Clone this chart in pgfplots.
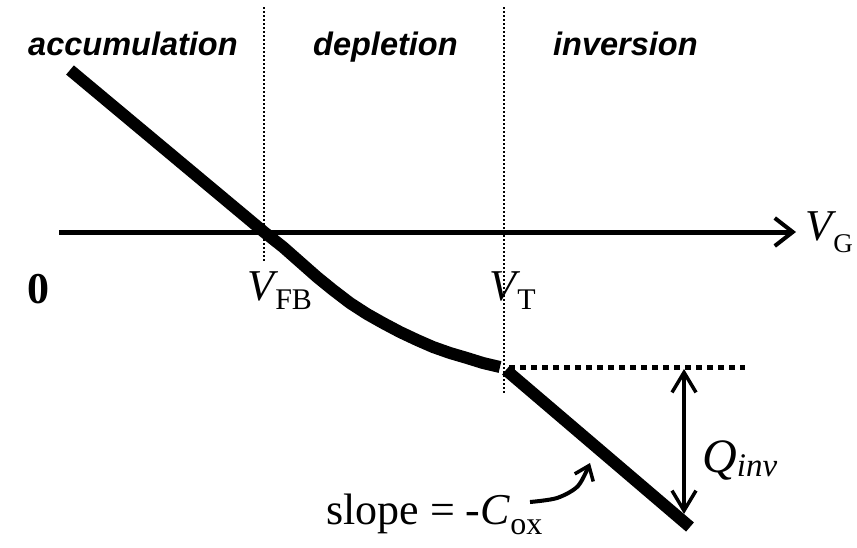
\documentclass[border=0pt]{standalone}
\usepackage{graphicx}
\usepackage{fontspec}
\setmainfont{Liberation Serif}
\newfontfamily\lsans{Liberation Sans}
\usepackage{pgfplots}
\pgfplotsset{compat=1.18}
\usetikzlibrary{arrows.meta}
\begin{document}
\begin{tikzpicture}
\begin{axis}[
  width=857pt, height=547pt, scale only axis,
  xmin=0, xmax=857, ymin=0, ymax=547, y dir=reverse,
  hide axis, clip=false,
]
\path (rel axis cs:0,0) rectangle (rel axis cs:1,1);
% dotted region separators
\addplot[black, line width=2pt, dash pattern=on 2pt off 2pt] coordinates {(264,7) (264,262)};
\addplot[black, line width=2pt, dash pattern=on 2pt off 2pt] coordinates {(504,7) (504,394)};
% horizontal V axis
\addplot[black, line width=5pt, -{Straight Barb[length=18pt,width=28pt,line width=4pt]}] coordinates {(59,232) (796,232)};
% Q_inv reference dotted line
\addplot[black, line width=5pt, dash pattern=on 6pt off 5pt] coordinates {(509,367) (745,367)};
% charge curve: accumulation + depletion
\addplot[black, line width=12pt, line join=round] coordinates {
(70,70) (264,232) (283,247) (300,262) (317,277) (333,290) (350,303) (367,314)
(383,323) (400,332) (417,340) (433,347) (450,353) (467,358) (483,363) (500,367)};
% inversion
\addplot[black, line width=12pt] coordinates {(506,370) (690,527)};
% Q_inv double arrow
\addplot[black, line width=3.5pt, {Straight Barb[length=20pt,width=24pt,line width=3.5pt]}-{Straight Barb[length=20pt,width=24pt,line width=3.5pt]}] coordinates {(684,369) (684,514)};
% slope arrow
\addplot[black, line width=4pt, smooth, -{Straight Barb[length=13pt,width=20pt,line width=3.5pt]}] coordinates {(530,502) (557,498) (578,486) (590,463)};
% region labels
\node[anchor=base west, inner sep=0pt] at (axis cs:28,55) {\fontsize{32.5}{32.5}\selectfont\lsans\bfseries\itshape accumulation};
\node[anchor=base west, inner sep=0pt] at (axis cs:313,55) {\fontsize{32.5}{32.5}\selectfont\lsans\bfseries\itshape depletion};
\node[anchor=base west, inner sep=0pt] at (axis cs:553,55) {\fontsize{32.5}{32.5}\selectfont\lsans\bfseries\itshape inversion};
% axis labels
\node[anchor=base west, inner sep=0pt] at (axis cs:27,303) {\fontsize{44}{44}\selectfont\bfseries 0};
\node[anchor=base west, inner sep=0pt] at (axis cs:247,300) {\fontsize{44}{44}\selectfont\textit{V}\kern-3pt\raisebox{-9pt}{\fontsize{30}{30}\selectfont FB}};
\node[anchor=base west, inner sep=0pt] at (axis cs:489,300) {\fontsize{44}{44}\selectfont\textit{V}\kern-3pt\raisebox{-9pt}{\fontsize{30}{30}\selectfont T}};
\node[anchor=base west, inner sep=0pt] at (axis cs:805,240) {\fontsize{44}{44}\selectfont\textit{V}\kern-3pt\raisebox{-12pt}{\fontsize{27}{27}\selectfont G}};
\node[anchor=base west, inner sep=0pt] at (axis cs:702,472) {\fontsize{48}{48}\selectfont\textit{Q}\raisebox{-4pt}{\fontsize{33}{33}\selectfont\textit{inv}}};
\node[anchor=base west, inner sep=0pt] at (axis cs:326,524) {\fontsize{44}{44}\selectfont slope = -\textit{C}\raisebox{-10pt}{\fontsize{32}{32}\selectfont ox}};
\end{axis}
\end{tikzpicture}
\end{document}
